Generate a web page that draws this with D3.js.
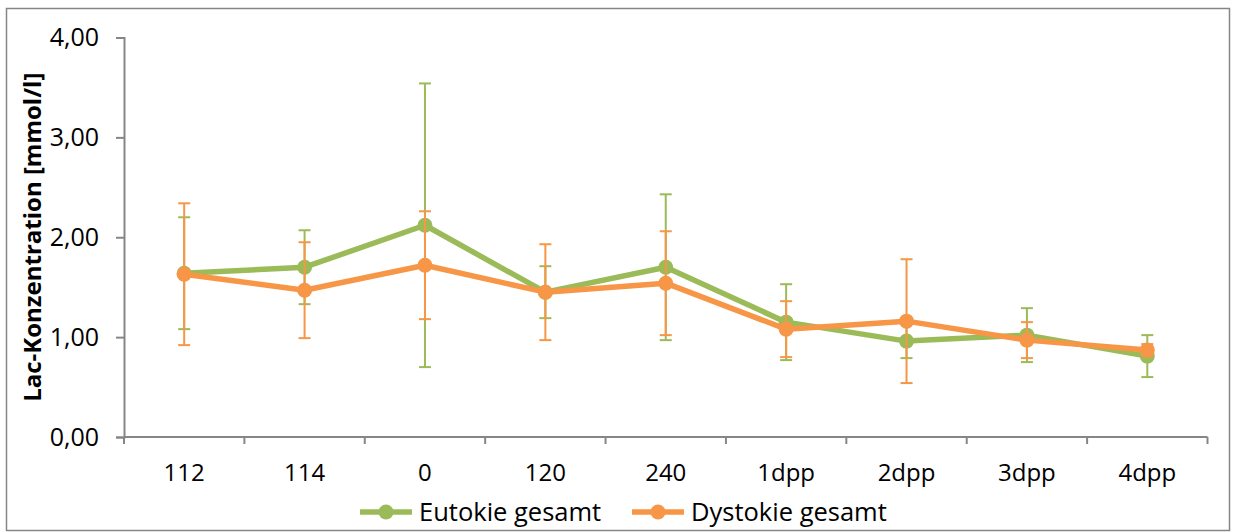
<!DOCTYPE html>
<html>
<head>
<meta charset="utf-8">
<script src="https://cdn.jsdelivr.net/npm/d3@7"></script>
<style>
  html, body { margin: 0; padding: 0; background: #fff; }
  svg { display: block; }
  text { font-family: "Open Sans", "Noto Sans", sans-serif; fill: #000; }
</style>
</head>
<body>
<svg id="chart" width="1236" height="532"></svg>
<script>
// Lactate concentration by sampling time point
const categories = ["112", "114", "0", "120", "240", "1dpp", "2dpp", "3dpp", "4dpp"];
const eutokieMean = [1.64, 1.70, 2.12, 1.45, 1.70, 1.15, 0.96, 1.02, 0.81];
const eutokieSd   = [0.56, 0.37, 1.42, 0.26, 0.73, 0.38, 0.17, 0.27, 0.21];
const dystokieMean = [1.63, 1.47, 1.72, 1.45, 1.54, 1.08, 1.16, 0.97, 0.87];
const dystokieSd   = [0.71, 0.48, 0.54, 0.48, 0.52, 0.28, 0.62, 0.18, 0.06];
const yTicks = [0, 1, 2, 3, 4];
const seriesNames = ["Eutokie gesamt", "Dystokie gesamt"];
const seriesColors = ["#9BBB59", "#F79646"];
const yTitle = "Lac-Konzentration [mmol/l]";

const svg = d3.select("#chart");
const plot = { left: 124, right: 1207.5, top: 37.5, bottom: 437 };
const axisColor = "#868686";

// outer frame
svg.append("rect")
  .attr("x", 6.5).attr("y", 8.5)
  .attr("width", 1223).attr("height", 522)
  .attr("fill", "#fff").attr("stroke", axisColor).attr("stroke-width", 1.5);

const x = d3.scaleBand().domain(categories).range([plot.left, plot.right]).padding(0);
const y = d3.scaleLinear().domain([0, 4]).range([plot.bottom, plot.top]);
const fmt = d => d.toFixed(2).replace(".", ",");

// y axis
const yAxis = svg.append("g")
  .attr("transform", `translate(${plot.left},0)`)
  .call(d3.axisLeft(y).tickValues(yTicks).tickFormat(fmt).tickSize(8).tickPadding(17));
yAxis.select(".domain").attr("stroke", axisColor).attr("stroke-width", 2);
yAxis.selectAll(".tick line").attr("stroke", axisColor).attr("stroke-width", 2);
yAxis.selectAll(".tick text")
  .style("font-size", "25px").attr("fill", "#000")
  .attr("font-family", "Open Sans");

// x axis: tick marks at category boundaries, labels at centres
const xAxisG = svg.append("g").attr("transform", `translate(0,${plot.bottom})`);
xAxisG.append("line")
  .attr("x1", plot.left).attr("x2", plot.right)
  .attr("stroke", axisColor).attr("stroke-width", 2);
const boundaries = categories.map(c => x(c)).concat([x(categories[categories.length - 1]) + x.bandwidth()]);
xAxisG.selectAll(".xtick").data(boundaries).join("line")
  .attr("class", "xtick")
  .attr("x1", d => d).attr("x2", d => d)
  .attr("y1", 0).attr("y2", 7)
  .attr("stroke", axisColor).attr("stroke-width", 2);
xAxisG.selectAll(".xlabel").data(categories).join("text")
  .attr("class", "xlabel")
  .attr("x", d => x(d) + x.bandwidth() / 2)
  .attr("y", 44)
  .attr("text-anchor", "middle")
  .style("font-size", "24px")
  .text(d => d);

// y axis title
svg.append("text")
  .attr("transform", `translate(41,${(plot.top + plot.bottom) / 2}) rotate(-90)`)
  .attr("text-anchor", "middle")
  .style("font-size", "24px").style("font-weight", "bold")
  .text(yTitle);

const cx = c => x(c) + x.bandwidth() / 2;
const series = [
  { mean: eutokieMean, sd: eutokieSd, color: seriesColors[0] },
  { mean: dystokieMean, sd: dystokieSd, color: seriesColors[1] }
];

const line = d3.line().x(d => cx(d.cat)).y(d => y(d.v));

series.forEach(s => {
  const pts = categories.map((c, i) => ({ cat: c, v: s.mean[i], sd: s.sd[i] }));
  const g = svg.append("g");
  // error bars
  const eb = g.selectAll(".eb").data(pts).join("g").attr("class", "eb")
    .attr("stroke", s.color).attr("stroke-width", 2);
  eb.append("line")
    .attr("x1", d => cx(d.cat)).attr("x2", d => cx(d.cat))
    .attr("y1", d => y(d.v + d.sd)).attr("y2", d => y(d.v - d.sd));
  eb.append("line")
    .attr("x1", d => cx(d.cat) - 6).attr("x2", d => cx(d.cat) + 6)
    .attr("y1", d => y(d.v + d.sd)).attr("y2", d => y(d.v + d.sd));
  eb.append("line")
    .attr("x1", d => cx(d.cat) - 6).attr("x2", d => cx(d.cat) + 6)
    .attr("y1", d => y(d.v - d.sd)).attr("y2", d => y(d.v - d.sd));
  // line
  g.append("path").datum(pts)
    .attr("d", line).attr("fill", "none")
    .attr("stroke", s.color).attr("stroke-width", 5.5)
    .attr("stroke-linejoin", "round");
  // markers
  g.selectAll("circle").data(pts).join("circle")
    .attr("cx", d => cx(d.cat)).attr("cy", d => y(d.v))
    .attr("r", 7.5).attr("fill", s.color);
});

// legend
const legendItems = [
  { name: seriesNames[0], color: seriesColors[0], x0: 360 },
  { name: seriesNames[1], color: seriesColors[1], x0: 632 }
];
const ly = 512;
legendItems.forEach(it => {
  const lg = svg.append("g");
  lg.append("line")
    .attr("x1", it.x0).attr("x2", it.x0 + 52)
    .attr("y1", ly).attr("y2", ly)
    .attr("stroke", it.color).attr("stroke-width", 5.5);
  lg.append("circle").attr("cx", it.x0 + 26).attr("cy", ly).attr("r", 7.5).attr("fill", it.color);
  lg.append("text")
    .attr("x", it.x0 + 59).attr("y", ly + 9)
    .style("font-size", "25.5px")
    .text(it.name);
});
</script>
</body>
</html>
